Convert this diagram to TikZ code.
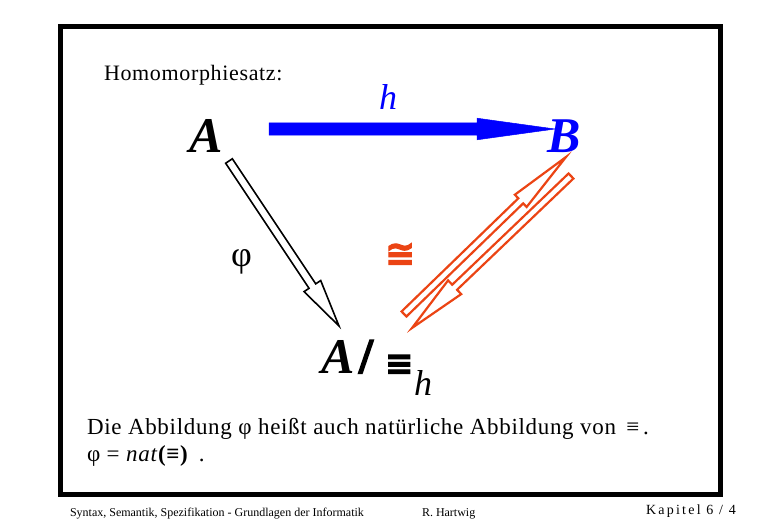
\documentclass[tikz,border=0pt]{standalone}
\usepackage{fontspec}
\setmainfont{Liberation Serif}
\newfontfamily\djv{DejaVu Sans}
\newfontfamily\djvfat[FakeBold=3]{DejaVu Sans Bold}
\newfontfamily\timesfat[FakeBold=3]{Liberation Serif Bold}
\usetikzlibrary{calc}
\definecolor{hblue}{RGB}{0,0,255}
\definecolor{hred}{RGB}{235,68,20}
\newcommand{\openarr}[6]{%
  \path ($(#3)!#5!(#2)$) coordinate (hb);
  \draw[#1] ($(#2)!#4!90:(#3)$) -- ($(hb)!#4!90:(#3)$) -- ($(hb)!#6!90:(#3)$) -- (#3)
    -- ($(hb)!#6!-90:(#3)$) -- ($(hb)!#4!-90:(#3)$) -- ($(#2)!#4!-90:(#3)$) -- cycle;}
\tikzset{
  lbl/.style={inner sep=0pt, outer sep=0pt, anchor=base west},
  big/.style={lbl, font=\fontsize{50}{50}\selectfont\bfseries\itshape},
  body/.style={lbl, font=\fontsize{23}{27}\selectfont\addfontfeatures{LetterSpace=3}},
  foot/.style={lbl, font=\fontsize{12}{14}\selectfont},
}
\begin{document}
\begin{tikzpicture}[x=1pt,y=-1pt]
\useasboundingbox (0,0) rectangle (780,520);
\draw[line width=5pt] (60,26) rectangle (720.5,494.5);
\node[lbl, font=\fontsize{22}{24}\selectfont\addfontfeatures{LetterSpace=3}] (title) at (104,80) {Homomorphiesatz:};
% main objects
\node[big] (A) at (189,152) {A};
\node[big, text=hblue] (B) at (547,152) {B};
\node[lbl, text=hblue, font=\fontsize{36}{36}\selectfont\itshape] (h) at (379,109) {h};
\node[big] (Q) at (321,373) {A};
\node[lbl, font=\fontsize{50}{50}\selectfont\timesfat] (sl) at (359,373) {/};
\node[lbl, font=\fontsize{34}{34}\selectfont\djvfat] (eq) at (385,375) {≡};
\node[lbl, font=\fontsize{36}{36}\selectfont\itshape] (hq) at (414,395) {h};
\node[lbl, font=\fontsize{36}{36}\selectfont] (phi) at (231,266) {φ};
\node[lbl, text=hred, font=\fontsize{36}{36}\selectfont\djvfat] (iso) at (385,266) {≅};
% arrow end points
\coordinate (h1) at (269,129);
\coordinate (h2) at (555,129);
\coordinate (p1) at (229,161);
\coordinate (p2) at (339,326);
\coordinate (r1) at (404,314);
\coordinate (r2) at (566,157);
\coordinate (s1) at (571,176);
\coordinate (s2) at (412,328);
\openarr{fill=hblue, draw=hblue, line width=0.5pt}{h1}{h2}{6.2pt}{78pt}{10.8pt}
\openarr{draw=black, fill=white, line width=1.6pt, line join=miter}{p1}{p2}{4pt}{48pt}{10pt}
\openarr{draw=hred, line width=2.2pt, line join=miter}{r1}{r2}{3.5pt}{63pt}{8.5pt}
\openarr{draw=hred, line width=2.2pt, line join=miter}{s1}{s2}{3.5pt}{59pt}{9.5pt}
% text
\node[body] (l1) at (87,434) {Die Abbildung φ heißt auch natürliche Abbildung von \,≡\,.};
\node[body] (l2) at (87,461) {φ = \textit{nat}\textbf{(≡)}\, .};
\node[foot] (f1) at (70,516) {Syntax, Semantik, Spezifikation - Grundlagen der Informatik};
\node[foot] (f2) at (422,516) {R. Hartwig};
\node[lbl, font=\fontsize{14}{16}\selectfont\addfontfeatures{LetterSpace=16}] (f3) at (646,514) {Kapitel 6 / 4};
\end{tikzpicture}
\end{document}
